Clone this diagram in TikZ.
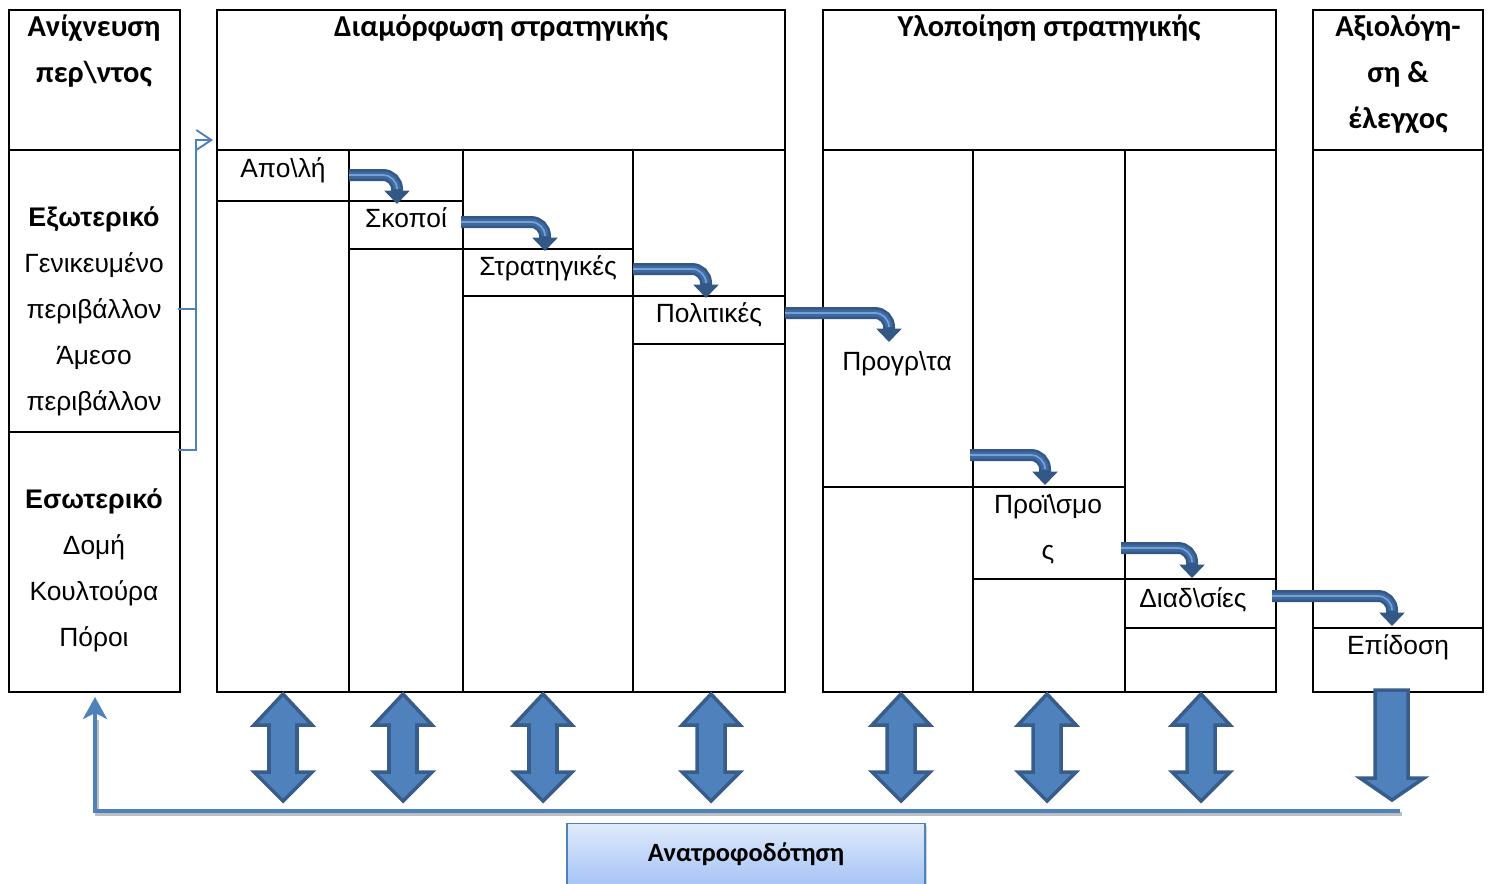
\documentclass[tikz,border=0pt]{standalone}
\usepackage{fontspec}
\setmainfont{Liberation Sans}
\newfontfamily\calibri{Carlito}
\usetikzlibrary{arrows.meta, shadows}
\definecolor{stepdark}{RGB}{52,88,134}
\definecolor{stepfill}{RGB}{62,106,162}
\definecolor{steplight}{RGB}{120,160,212}
\definecolor{flowblue}{RGB}{79,129,189}
\definecolor{flowedge}{RGB}{56,93,138}
\definecolor{feedtop}{RGB}{224,234,251}
\definecolor{feedbot}{RGB}{166,196,245}

\begin{document}
\begin{tikzpicture}[
  x=0.02cm, y=-0.02cm,
  frame/.style={draw=black, line width=1.4pt},
  txt/.style={anchor=base, inner sep=0pt, font=\fontsize{15}{18}\selectfont},
  boldtxt/.style={txt, font=\fontsize{15.3}{18}\selectfont\bfseries},
  head/.style={anchor=base, inner sep=0pt, font=\calibri\fontsize{17.3}{20}\selectfont\bfseries},
  bent/.style={draw=stepdark, line width=0.24cm, rounded corners=0.28cm, -{Triangle[length=0.27cm, width=0.5cm]}},
  bentfill/.style={draw=stepfill, line width=0.14cm, rounded corners=0.28cm, shorten >=0.3cm},
  bentshine/.style={draw=steplight, line width=0.035cm, rounded corners=0.28cm, shorten >=0.32cm},
  blockarrow/.style={fill=flowblue, draw=flowedge, line width=2pt, line join=miter},
  bracket/.style={draw=flowblue, line width=1.1pt},
  feedline/.style={draw=flowblue, line width=0.08cm, -{Stealth[length=0.44cm, width=0.48cm, inset=0.12cm]}},
  feedbox/.style={draw=flowblue, line width=0.8pt, top color=feedtop, bottom color=feedbot,
    minimum width=7.16cm, minimum height=1.22cm, inner sep=0pt,
    drop shadow={opacity=0.35, shadow xshift=0.05cm, shadow yshift=-0.05cm},
    font=\calibri\fontsize{15}{18}\selectfont\bfseries}
]
  \useasboundingbox (0,0) rectangle (1491,883);

  % scanning column
  \draw[frame] (9,10) rectangle (180,692);
  \draw[frame] (9,150) -- (180,150) (9,432) -- (180,432);
  \node[head] (scan1) at (94,36) {Ανίχνευση};
  \node[head] (scan2) at (94,82) {περ\textbackslash ντος};
  \node[boldtxt] (ext) at (94,226) {Εξωτερικό};
  \foreach \t [count=\i] in {Γενικευμένο, περιβάλλον, Άμεσο, περιβάλλον} {
    \node[txt] (ext\i) at (94,{226+46*\i}) {\t};
  }
  \node[boldtxt] (int) at (94,508) {Εσωτερικό};
  \foreach \t [count=\i] in {Δομή, Κουλτούρα, Πόροι} {
    \node[txt] (int\i) at (94,{508+46*\i}) {\t};
  }

  % formulation column
  \draw[frame] (217,10) rectangle (785,692);
  \draw[frame] (217,150) -- (785,150);
  \foreach \x in {349,463,633} {
    \draw[frame] (\x,150) -- (\x,692);
  }
  \draw[frame] (217,201) -- (463,201) (349,249) -- (633,249)
               (463,296) -- (785,296) (633,344) -- (785,344);
  \node[head] (form) at (501,36) {Διαμόρφωση στρατηγικής};

  % implementation column
  \draw[frame] (823,10) rectangle (1276,692);
  \draw[frame] (823,150) -- (1276,150);
  \foreach \x in {973,1125} {
    \draw[frame] (\x,150) -- (\x,692);
  }
  \draw[frame] (823,487) -- (1125,487) (973,579) -- (1276,579) (1125,628) -- (1276,628);
  \node[head] (impl) at (1049,36) {Υλοποίηση στρατηγικής};

  % evaluation column
  \draw[frame] (1313,10) rectangle (1483,692);
  \draw[frame] (1313,150) -- (1483,150) (1313,628) -- (1483,628);
  \foreach \t [count=\i] in {Αξιολόγη-, ση \&, έλεγχος} {
    \node[head] (eval\i) at (1398,{36+46*(\i-1)}) {\t};
  }

  % staircase cells
  \foreach \n/\x/\y/\t in {c1/283/177/Απο\textbackslash λή, c2/406/227/Σκοποί, c3/548/275/Στρατηγικές,
      c4/709/322/Πολιτικές, c5/897/370/Προγρ\textbackslash τα, c6/1048/513/Προϊ\textbackslash σμο,
      c7/1193/607/Διαδ\textbackslash σίες, c8/1398/654/Επίδοση} {
    \node[txt] (\n) at (\x,\y) {\t};
  }
  \node[txt] (c6b) at (1048,559) {ς};

  % bent step arrows
  \foreach \i/\sx/\sy/\ex/\ey in {1/349/175/397/204, 2/461/222/545/251, 3/633/269/706/298,
      4/785/313/889/342, 5/970/455/1045/485, 6/1121/548/1192/578, 7/1272/596/1392/626} {
    \coordinate (s\i) at (\sx,\sy);
    \coordinate (e\i) at (\ex,\ey);
    \draw[bent] (s\i) -| (e\i);
    \draw[bentfill] (s\i) -| (e\i);
    \draw[bentshine] (s\i) -| (e\i);
  }

  % environment bracket
  \coordinate (brA) at (178,309);
  \coordinate (brB) at (178,450);
  \coordinate (brC) at (196,309);
  \coordinate (brT) at (213,140);
  \draw[bracket] (brA) -- (brC);
  \draw[bracket, -{Straight Barb[length=0.3cm, width=0.4cm]}] (brB) -| (196,140) -- (brT);

  % two-way arrows
  \foreach \x in {283,403,543,711,901,1047,1201} {
    \draw[blockarrow] (\x,694) -- (\x+29,725) -- (\x+14,725) -- (\x+14,772) -- (\x+29,772)
      -- (\x,801) -- (\x-29,772) -- (\x-14,772) -- (\x-14,725) -- (\x-29,725) -- cycle;
  }
  \draw[blockarrow] (1375,690) -- (1408,690) -- (1408,778) -- (1424,778) -- (1392,800)
    -- (1360,778) -- (1375,778) -- cycle;

  % feedback
  \coordinate (fbR) at (1400,811);
  \coordinate (fbL) at (95,811);
  \coordinate (fbT) at (95,697);
  \draw[draw=black!25, line width=0.08cm] ([xshift=0.04cm, yshift=-0.05cm]fbR) -- ([xshift=0.04cm, yshift=-0.05cm]fbL) -- ([xshift=0.04cm]95,720);
  \draw[feedline] (fbR) -- (fbL) -- (fbT);
  \node[feedbox] (fb) at (746,854) {Ανατροφοδότηση};
\end{tikzpicture}
\end{document}
